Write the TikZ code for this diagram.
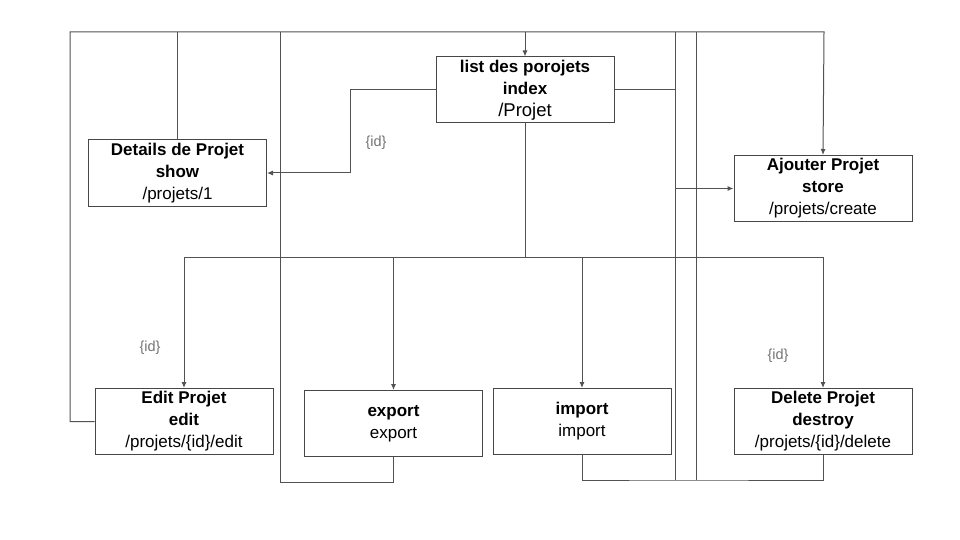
\documentclass[tikz,border=0pt]{standalone}
\usepackage{fontspec}
\setmainfont{Liberation Sans}
\usetikzlibrary{arrows.meta}
\tikzset{
  page/.style={x=1pt,y=-1pt},
  route/.style={draw=black!68,line width=1pt},
  routearr/.style={route,-{Latex[length=6pt,width=5pt]}},
  action/.style={draw=black!72,line width=1pt,minimum width=178pt,minimum height=66pt,
    inner sep=0pt,align=center,font=\fontsize{17}{22}\selectfont},
  param/.style={text=black!55,font=\fontsize{14.5}{16}\selectfont}
}
\begin{document}
\begin{tikzpicture}[page]
        \useasboundingbox (0,0) rectangle (960,540);
        \node[action] (list) at (525,90) {\textbf{list des porojets}\\ \textbf{index}\\ {\fontsize{18.5}{22}\selectfont/Projet}};
        \node[action] (details) at (177.5,173) {\textbf{Details de Projet}\\ \textbf{show}\\ /projets/1};
        \node[action] (ajout) at (823,188.5) {\textbf{Ajouter Projet}\\ \textbf{store}\\ /projets/create};
        \node[action] (edit) at (184,421.5) {\textbf{Edit Projet}\\ \textbf{edit}\\ /projets/\{id\}/edit};
        \node[action] (export) at (393.5,423.5) {\textbf{export}\\ export};
        \node[action] (import) at (582,421.5) {\textbf{import}\\ import};
        \node[action] (delete) at (823,421.5) {\textbf{Delete Projet}\\ \textbf{destroy}\\ /projets/\{id\}/delete};
        \node[param] (idshow) at (376,143) {\{id\}};
        \node[param] (idedit) at (150,348) {\{id\}};
        \node[param] (iddel) at (778,356) {\{id\}};
        \coordinate (topL) at (70,32);
        \coordinate (topR) at (824,32);
        \coordinate (loopA) at (280,482);
        \coordinate (loopB) at (675,480);
        \coordinate (loopC) at (696,480);
        \coordinate (split) at (525,257);
        % top return line
        \draw[routearr] (edit.west) -| (topL) -- (topR) -- (ajout.north);
        \draw[route] (details.north) -- (details.north |- topL);
        \draw[routearr] (list.north |- topL) -- (list.north);
        \draw[route] (export.south) |- (loopA) -- (loopA |- topL);
        \draw[route] (loopB |- topL) -- (loopB);
        \draw[route] (loopC |- topL) -- (loopC);
        \draw[route] (list.east) -- (list.east -| loopB);
        \draw[routearr] (loopB |- ajout.west) -- (ajout.west);
        \draw[routearr] (list.west) -- ++(-85,0) |- (details.east);
        % from index to the actions
        \draw[route] (list.south) -- (split);
        \foreach \act in {edit,export,import,delete} {
        \draw[routearr] (split) -| (\act.north);
        }
        \draw[route] (import.south) |- (loopB) -| (delete.south);
\end{tikzpicture}
\end{document}
